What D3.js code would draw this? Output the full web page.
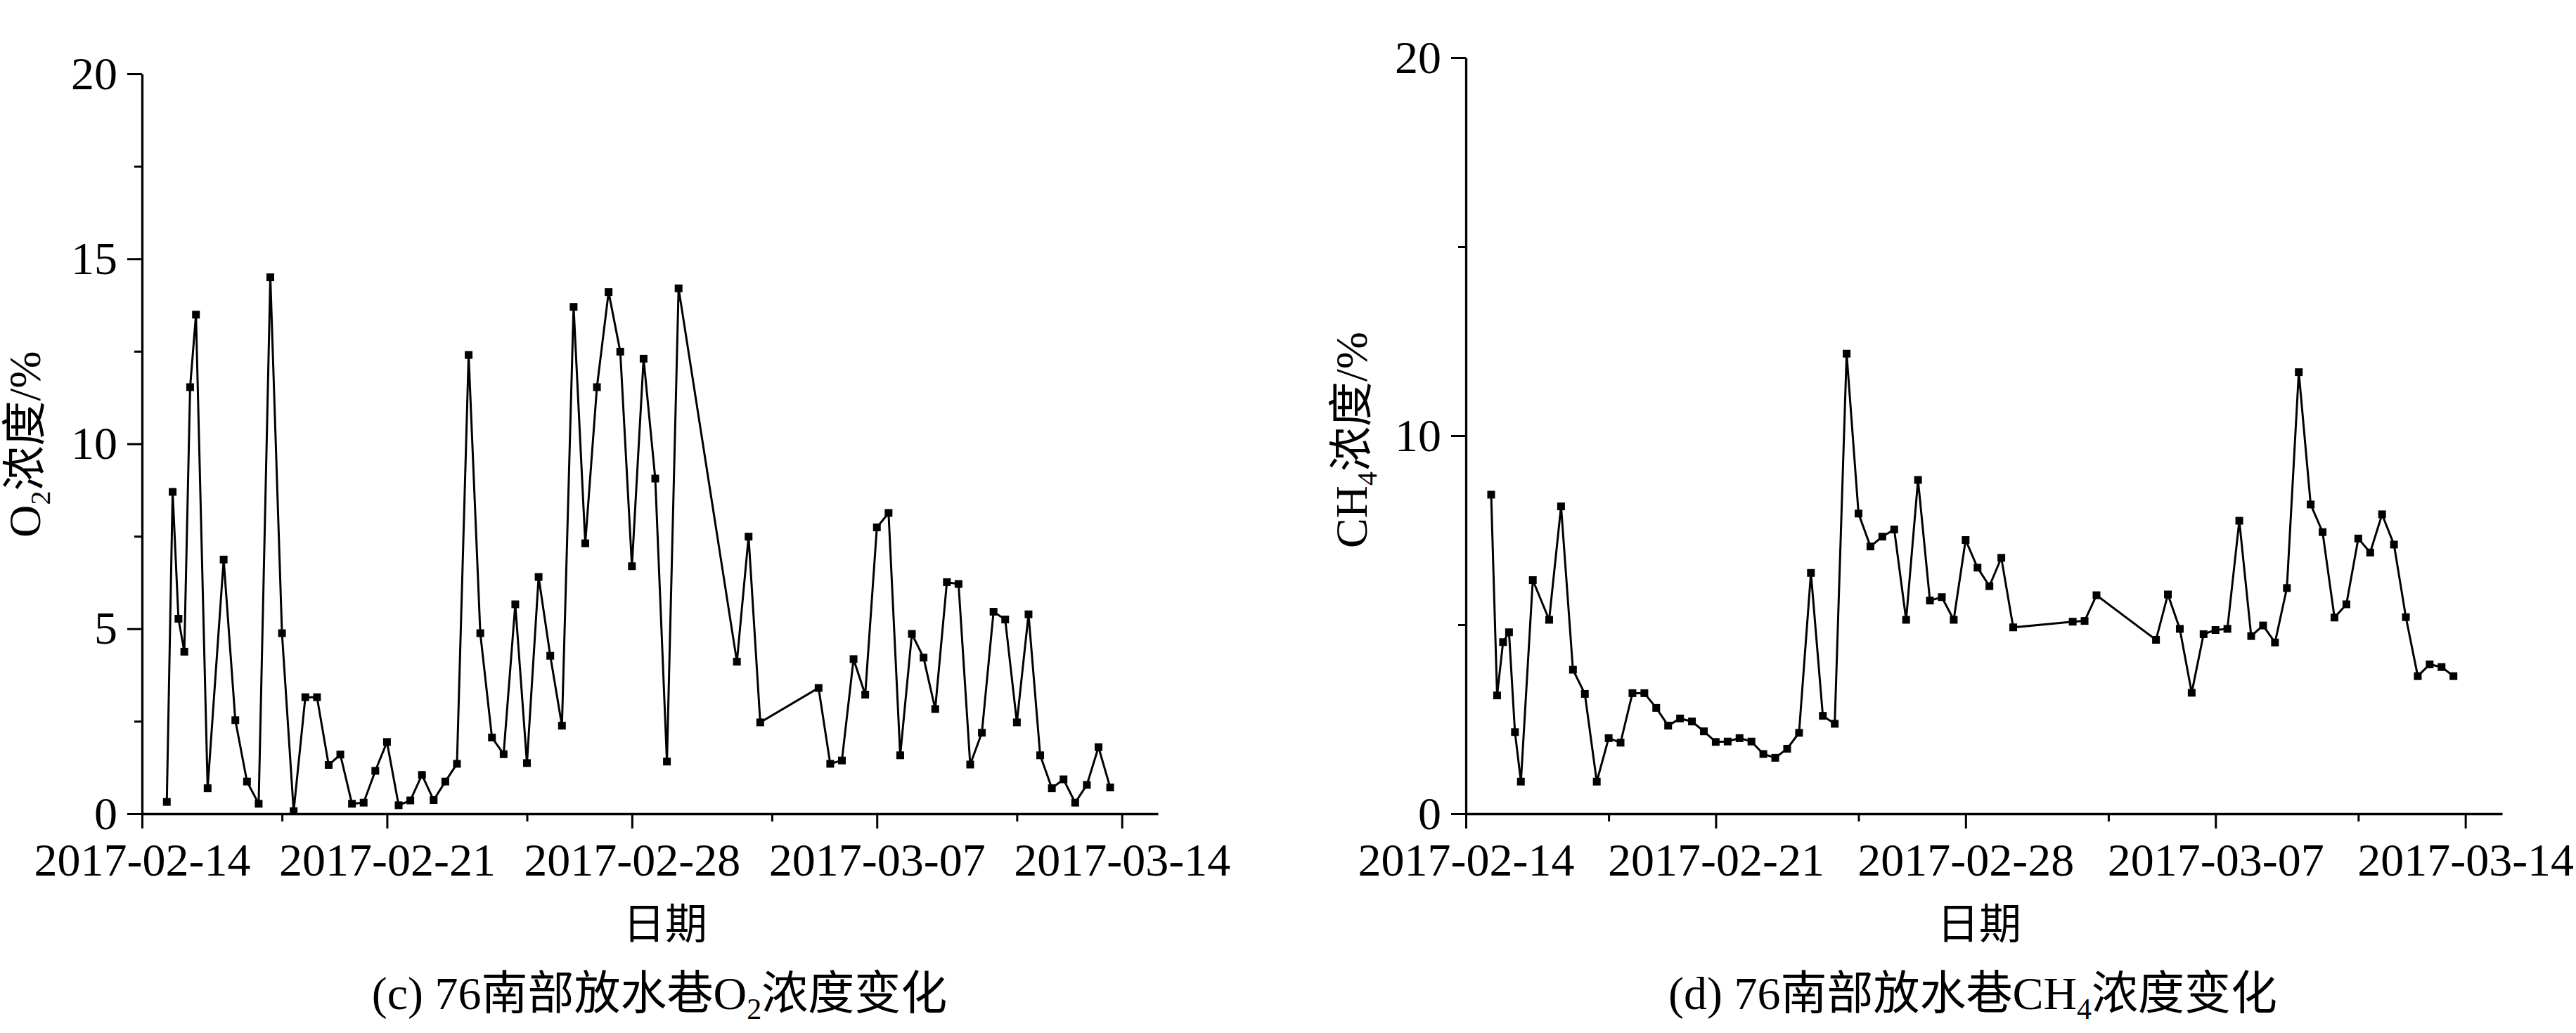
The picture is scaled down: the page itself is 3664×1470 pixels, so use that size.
<!DOCTYPE html>
<html>
<head>
<meta charset="utf-8">
<script src="https://cdn.jsdelivr.net/npm/d3@7"></script>
<style>
html, body { margin: 0; padding: 0; background: #fff; }
svg { display: block; }
text { font-family: "Liberation Serif", "Times New Roman", "Noto Sans CJK SC", serif; fill: #000; }
</style>
</head>
<body>
<svg id="chart" width="3664" height="1470"></svg>
<script>
// ---- data ----
const times = [
  "2017-02-14 17:00","2017-02-14 21:00","2017-02-15 01:00","2017-02-15 05:00","2017-02-15 09:00","2017-02-15 13:00",
  "2017-02-15 21:00","2017-02-16 08:00","2017-02-16 16:00",
  "2017-02-17 00:00","2017-02-17 08:00","2017-02-17 16:00",
  "2017-02-18 00:00","2017-02-18 08:00","2017-02-18 16:00",
  "2017-02-19 00:00","2017-02-19 08:00","2017-02-19 16:00",
  "2017-02-20 00:00","2017-02-20 08:00","2017-02-20 16:00",
  "2017-02-21 00:00","2017-02-21 08:00","2017-02-21 16:00",
  "2017-02-22 00:00","2017-02-22 08:00","2017-02-22 16:00",
  "2017-02-23 00:00","2017-02-23 08:00","2017-02-23 16:00",
  "2017-02-24 00:00","2017-02-24 08:00","2017-02-24 16:00",
  "2017-02-25 00:00","2017-02-25 08:00","2017-02-25 16:00",
  "2017-02-26 00:00","2017-02-26 08:00","2017-02-26 16:00",
  "2017-02-27 00:00","2017-02-27 08:00","2017-02-27 16:00",
  "2017-02-28 00:00","2017-02-28 08:00","2017-02-28 16:00",
  "2017-03-01 00:00","2017-03-01 08:00",
  "2017-03-03 00:00","2017-03-03 08:00","2017-03-03 16:00",
  "2017-03-05 08:00","2017-03-05 16:00",
  "2017-03-06 00:00","2017-03-06 08:00","2017-03-06 16:00",
  "2017-03-07 00:00","2017-03-07 08:00","2017-03-07 16:00",
  "2017-03-08 00:00","2017-03-08 08:00","2017-03-08 16:00",
  "2017-03-09 00:00","2017-03-09 08:00","2017-03-09 16:00",
  "2017-03-10 00:00","2017-03-10 08:00","2017-03-10 16:00",
  "2017-03-11 00:00","2017-03-11 08:00","2017-03-11 16:00",
  "2017-03-12 00:00","2017-03-12 08:00","2017-03-12 16:00",
  "2017-03-13 00:00","2017-03-13 08:00","2017-03-13 16:00"
];

const o2 = [
  0.32, 8.70, 5.27, 4.38, 11.53, 13.49,
  0.69, 6.87, 2.53,
  0.87, 0.27, 14.50,
  4.88, 0.07, 3.15,
  3.15, 1.32, 1.60,
  0.27, 0.30, 1.16,
  1.94, 0.23, 0.36,
  1.05, 0.37, 0.87,
  1.35, 12.40, 4.88,
  2.06, 1.61, 5.66,
  1.37, 6.40, 4.27,
  2.38, 13.70, 7.31,
  11.53, 14.10, 12.49,
  6.69, 12.30, 9.06,
  1.41, 14.20,
  4.11, 7.49, 2.47,
  3.40, 1.35,
  1.44, 4.18, 3.22,
  7.74, 8.13, 1.58,
  4.86, 4.22, 2.83,
  6.26, 6.21, 1.33,
  2.19, 5.46, 5.25,
  2.47, 5.39, 1.58,
  0.69, 0.93, 0.30,
  0.78, 1.80, 0.71
];

const ch4 = [
  8.44, 3.13, 4.54, 4.80, 2.16, 0.85,
  6.18, 5.13, 8.13,
  3.81, 3.17, 0.85,
  2.00, 1.88, 3.19,
  3.19, 2.80, 2.33,
  2.52, 2.44, 2.18,
  1.90, 1.91, 2.00,
  1.91, 1.58, 1.48,
  1.72, 2.14, 6.37,
  2.59, 2.38, 12.17,
  7.94, 7.07, 7.33,
  7.52, 5.13, 8.83,
  5.64, 5.73, 5.13,
  7.24, 6.51, 6.02,
  6.77, 4.93,
  5.08, 5.10, 5.78,
  4.60, 5.80,
  4.89, 3.20, 4.75,
  4.86, 4.89, 7.75,
  4.70, 4.98, 4.53,
  5.97, 11.68, 8.18,
  7.45, 5.19, 5.54,
  7.28, 6.91, 7.92,
  7.12, 5.20, 3.64,
  3.95, 3.88, 3.64
];

const majorDateTicks = ["2017-02-14", "2017-02-21", "2017-02-28", "2017-03-07", "2017-03-14"];
const minorDateTicks = ["2017-02-18", "2017-02-25", "2017-03-04", "2017-03-11"];
const xDomain = ["2017-02-14 00:00", "2017-03-15 00:45"];
const yDomain = [0, 20];

const leftYMajor = [0, 5, 10, 15, 20];
const leftYMinor = [2.5, 7.5, 12.5, 17.5];
const rightYMajor = [0, 10, 20];
const rightYMinor = [5, 15];

// ---- drawing ----
const parseT = d3.timeParse("%Y-%m-%d %H:%M");
const parseD = d3.timeParse("%Y-%m-%d");
const fmt = d3.timeFormat("%Y-%m-%d");
const svg = d3.select("#chart");
svg.append("rect").attr("width", 3664).attr("height", 1470).attr("fill", "#fff");

const FS = 66;

function panel(cfg) {
  const x = d3.scaleTime().domain(xDomain.map(parseT)).range([cfg.x0, cfg.x1]);
  const y = d3.scaleLinear().domain(yDomain).range([cfg.yBottom, cfg.yTop]);
  const g = svg.append("g");

  // x axis (major)
  g.append("g").attr("transform", `translate(0,${cfg.yBottom})`)
    .call(d3.axisBottom(x).tickValues(majorDateTicks.map(parseD)).tickFormat(fmt)
      .tickSize(21).tickSizeOuter(0).tickPadding(20));
  // x minor
  const xm = g.append("g").attr("transform", `translate(0,${cfg.yBottom})`)
    .call(d3.axisBottom(x).tickValues(minorDateTicks.map(parseD)).tickFormat("")
      .tickSize(11).tickSizeOuter(0));
  xm.select(".domain").remove();

  // y axis
  g.append("g").attr("transform", `translate(${cfg.x0},0)`)
    .call(d3.axisLeft(y).tickValues(cfg.yMajor).tickFormat(d3.format("d"))
      .tickSize(21).tickSizeOuter(0).tickPadding(14));
  const ym = g.append("g").attr("transform", `translate(${cfg.x0},0)`)
    .call(d3.axisLeft(y).tickValues(cfg.yMinor).tickFormat("")
      .tickSize(11).tickSizeOuter(0));
  ym.select(".domain").remove();

  g.selectAll(".domain").attr("stroke", "#000").attr("stroke-width", 3.3);
  g.selectAll(".tick line").attr("stroke", "#000").attr("stroke-width", 3);
  g.selectAll(".tick text").attr("font-size", FS).attr("font-family", null).attr("fill", "#000");

  // line
  const pts = times.map((t, i) => ({ t: parseT(t), v: cfg.values[i] }));
  g.append("path").datum(pts)
    .attr("fill", "none").attr("stroke", "#000").attr("stroke-width", 3)
    .attr("stroke-linejoin", "miter")
    .attr("d", d3.line().x(d => x(d.t)).y(d => y(d.v)));
  g.selectAll("rect.m").data(pts).enter().append("rect").attr("class", "m")
    .attr("x", d => x(d.t) - 5.5).attr("y", d => y(d.v) - 5.5)
    .attr("width", 11).attr("height", 11).attr("fill", "#000");

  // y title
  const yt = g.append("text")
    .attr("transform", `translate(${cfg.ytX},${cfg.ytY}) rotate(-90)`)
    .attr("text-anchor", "middle").attr("font-size", 64);
  yt.append("tspan").text(cfg.ytMain);
  yt.append("tspan").attr("font-size", 40).attr("dy", 14).text(cfg.ytSub);
  yt.append("tspan").attr("dy", -14).text("浓度/%");

  // x title
  g.append("text").attr("x", cfg.xtX).attr("y", 1336).attr("text-anchor", "middle")
    .attr("font-size", 60).text("日期");

  // caption
  const cap = g.append("text").attr("x", cfg.capX).attr("y", 1436).attr("text-anchor", "middle")
    .attr("font-size", 66);
  cap.append("tspan").text(cfg.capPre);
  cap.append("tspan").attr("font-size", 42).attr("dy", 14).text(cfg.ytSub);
  cap.append("tspan").attr("dy", -14).text("浓度变化");
}

panel({
  x0: 202, x1: 1647, yTop: 105, yBottom: 1158,
  values: o2, yMajor: leftYMajor, yMinor: leftYMinor,
  ytX: 57, ytY: 632, ytMain: "O", ytSub: "2",
  xtX: 946, capX: 938, capPre: "(c) 76南部放水巷O"
});
panel({
  x0: 2085, x1: 3559, yTop: 82, yBottom: 1158,
  values: ch4, yMajor: rightYMajor, yMinor: rightYMinor,
  ytX: 1944, ytY: 626, ytMain: "CH", ytSub: "4",
  xtX: 2815, capX: 2806, capPre: "(d) 76南部放水巷CH"
});
</script>
</body>
</html>
